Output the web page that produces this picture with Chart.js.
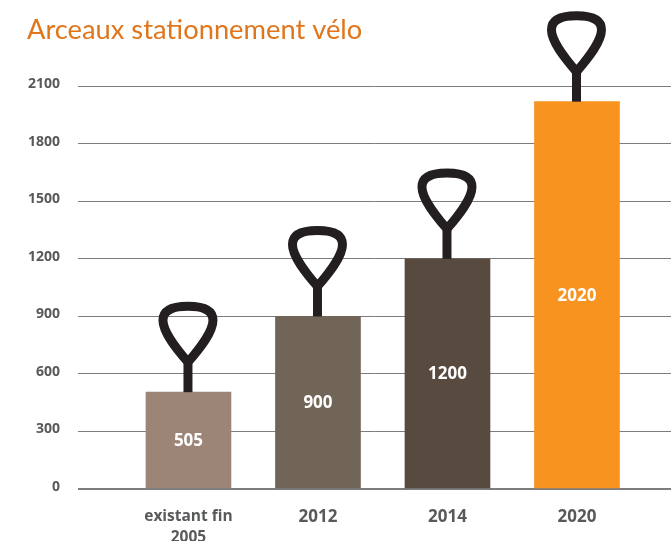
<!DOCTYPE html>
<html lang="fr">
<head>
<meta charset="utf-8">
<title>Arceaux stationnement vélo</title>
<style>html,body{margin:0;padding:0;background:#fff;overflow:hidden}canvas{display:block}</style>
<script src="https://cdn.jsdelivr.net/npm/chart.js@4"></script>
</head>
<body>
<canvas id="c" width="671" height="541"></canvas>
<script>
const titleText = 'Arceaux stationnement vélo';
const categories = [['existant fin', '2005'], '2012', '2014', '2020'];
const values = [505, 900, 1200, 2020];
const barColors = ['#9c8577', '#716557', '#594a40', '#f7931e'];
const yTicks = [0, 300, 600, 900, 1200, 1500, 1800, 2100];

const rackPlugin = {
  id: 'rack',
  afterDatasetsDraw(chart) {
    const ctx = chart.ctx;
    chart.getDatasetMeta(0).data.forEach((bar, i) => {
      const cx = bar.x - 0.5, top = bar.y;
      ctx.save();
      ctx.translate(cx, top);
      ctx.strokeStyle = '#231f20';
      ctx.lineWidth = 9;
      ctx.lineJoin = 'round';
      ctx.beginPath();
      ctx.moveTo(0, 0);
      ctx.lineTo(0, -32);
      ctx.stroke();
      ctx.beginPath();
      ctx.moveTo(0, -30);
      ctx.bezierCurveTo(-12, -44, -25, -60, -25, -72);
      ctx.bezierCurveTo(-25, -84, -12, -86, 0, -86);
      ctx.bezierCurveTo(12, -86, 25, -84, 25, -72);
      ctx.bezierCurveTo(25, -60, 12, -44, 0, -30);
      ctx.closePath();
      ctx.stroke();
      ctx.restore();
      ctx.save();
      ctx.fillStyle = '#ffffff';
      ctx.font = 'bold 17px "Open Sans"';
      ctx.textAlign = 'center';
      ctx.textBaseline = 'middle';
      ctx.fillText(String(values[i]), bar.x, (bar.y + bar.base) / 2 + 1);
      ctx.restore();
    });
  }
};

new Chart(document.getElementById('c'), {
  type: 'bar',
  data: {
    datasets: [{
      data: values.map((v, i) => ({ x: i, y: v })),
      backgroundColor: barColors,
      borderWidth: 0,
      barThickness: 85
    }]
  },
  options: {
    responsive: false,
    animation: false,
    layout: { padding: { left: 27, right: 0, top: 0, bottom: 0 } },
    plugins: {
      legend: { display: false },
      tooltip: { enabled: false },
      title: {
        display: true,
        text: titleText,
        align: 'start',
        color: '#e0761c',
        font: { family: 'Lato', size: 27.3, weight: '400', lineHeight: 1.2 },
        padding: { top: 14, bottom: 39.6 }
      }
    },
    scales: {
      x: {
        type: 'linear',
        offset: false,
        min: -0.853,
        max: 3.726,
        afterBuildTicks(scale) { scale.ticks = categories.map((c, i) => ({ value: i })); },
        afterFit(scale) { scale.height = 52; },
        border: { display: false },
        grid: { display: false, drawTicks: false },
        ticks: {
          autoSkip: false,
          maxRotation: 0,
          padding: 18,
          color: '#58595b',
          font: (c) => ({ family: 'Open Sans', size: c.index === 0 ? 15.5 : 17, weight: 'bold', lineHeight: c.index === 0 ? 1.3 : 1.2 }),
          callback: (v) => categories[v]
        }
      },
      y: {
        min: 0,
        max: 2100,
        afterBuildTicks(scale) { scale.ticks = yTicks.map(v => ({ value: v })); },
        afterFit(scale) { scale.width = 51; },
        border: { display: false },
        grid: {
          drawTicks: false,
          color: '#7d7d7d',
          lineWidth: (c) => (c.tick && c.tick.value === 0 ? 2 : 1)
        },
        ticks: {
          padding: 18,
          color: '#58595b',
          font: { family: 'Open Sans', size: 14, weight: 'bold', lineHeight: '4px' },
          callback: (v) => [String(v), '']
        }
      }
    }
  },
  plugins: [rackPlugin]
});
</script>
</body>
</html>
